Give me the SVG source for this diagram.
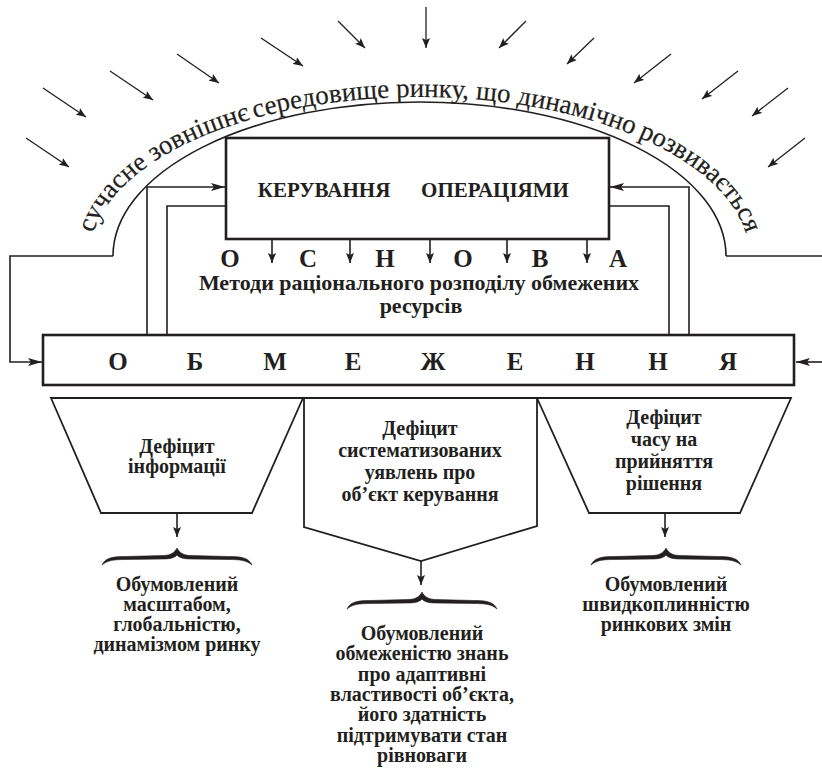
<svg xmlns="http://www.w3.org/2000/svg" xmlns:xlink="http://www.w3.org/1999/xlink" width="822" height="781" viewBox="0 0 822 781">
  <style>
    .ln { fill: none; stroke: #231f20; stroke-width: 1.6; }
    .thin { fill: none; stroke: #231f20; stroke-width: 1.3; }
    .box { fill: #ffffff; stroke: #231f20; stroke-width: 2.6; }
    .shape { fill: #ffffff; stroke: #231f20; stroke-width: 1.8; stroke-linejoin: miter; }
    .t { font-family: "Liberation Serif", "Times New Roman", serif; font-weight: bold; fill: #231f20; text-anchor: middle; }
    .t20 { font-size: 20px; }
    .t21 { font-size: 21px; }
    .t22 { font-size: 22px; }
    .t25 { font-size: 25px; }
    .arc { font-family: "Liberation Serif", "Times New Roman", serif; font-size: 27px; fill: #231f20; stroke: #231f20; stroke-width: 0.2; }
    .brace { fill: #231f20; stroke: #231f20; stroke-width: 0.6; }
  </style>
  <defs>
    <marker id="ah" viewBox="0 0 10 8" refX="10" refY="4" markerWidth="10" markerHeight="8" orient="auto" markerUnits="userSpaceOnUse">
      <path d="M0,0 L10,4 L0,8 L2,4 z" fill="#231f20"/>
    </marker>
    <marker id="ahBig" viewBox="0 0 14 8" refX="14" refY="4" markerWidth="15" markerHeight="8" orient="auto" markerUnits="userSpaceOnUse">
      <path d="M0,0 L14,4 L0,8 L3,4 z" fill="#231f20"/>
    </marker>
    <!-- curly brace, tip at origin, opening downward -->
    <path id="brace" d="M-75,17 C-72,10 -65,8.5 -52,8.5 L-14,7.5 C-6,7.5 -2,4 0,0 C2,4 6,7.5 14,7.5 L52,8.5 C65,8.5 72,10 75,17 C70,12.5 63,11.5 52,11.5 L14,11 C6,11 2,9.5 0,7 C-2,9.5 -6,11 -14,11 L-52,11.5 C-63,11.5 -70,12.5 -75,17 Z"/>
    <!-- baseline for the caption that follows the dome -->
    <path id="arcPath" d="M89.5,257 A330,160 0 0 1 749.5,257"/>
  </defs>

  <rect width="822" height="781" fill="#ffffff"/>

  <!-- market environment: dome and incoming pressures -->
  <g id="environment">
    <path class="ln" d="M113,256 A306.5,154 0 0 1 726,256" stroke-width="2"/>
    <path class="ln" d="M726,256 H822"/>
    <text class="arc"><textPath href="#arcPath" xlink:href="#arcPath" startOffset="24">сучасне зовнішнє</textPath></text>
    <text class="arc" text-anchor="middle"><textPath href="#arcPath" xlink:href="#arcPath" startOffset="422">середовище ринку, що динамічно</textPath></text>
    <text class="arc" text-anchor="end"><textPath href="#arcPath" xlink:href="#arcPath" startOffset="769">розвивається</textPath></text>
    <g class="thin" marker-end="url(#ah)">
      <line x1="26" y1="138" x2="69" y2="167"/>
      <line x1="43" y1="88" x2="86" y2="117"/>
      <line x1="110" y1="71" x2="153" y2="100"/>
      <line x1="177" y1="54" x2="219" y2="83"/>
      <line x1="261" y1="38" x2="303" y2="66"/>
      <line x1="338" y1="21" x2="365" y2="48"/>
      <line x1="426" y1="7" x2="426" y2="48"/>
      <line x1="526" y1="21" x2="499" y2="48"/>
      <line x1="594" y1="38" x2="567" y2="64"/>
      <line x1="671" y1="54" x2="634" y2="83"/>
      <line x1="738" y1="71" x2="702" y2="99"/>
      <line x1="788" y1="88" x2="752" y2="116"/>
      <line x1="805" y1="138" x2="768" y2="167"/>
    </g>
  </g>

  <!-- connectors -->
  <g id="connectors">
    <path class="ln" d="M113,256 H10 V362 H42" marker-end="url(#ahBig)"/>
    <path class="ln" d="M822,362 H796" marker-end="url(#ahBig)"/>
    <path class="ln" d="M147,335 V187 H225" marker-end="url(#ahBig)"/>
    <path class="ln" d="M226,206 H167 V335"/>
    <path class="ln" d="M689,335 V187 H610" marker-end="url(#ahBig)"/>
    <path class="ln" d="M609,206 H669 V335"/>
    <g class="ln" marker-end="url(#ah)">
      <line x1="272" y1="239" x2="272" y2="263"/>
      <line x1="350" y1="239" x2="350" y2="263"/>
      <line x1="430" y1="239" x2="430" y2="263"/>
      <line x1="507" y1="239" x2="507" y2="263"/>
      <line x1="587" y1="239" x2="587" y2="263"/>
      <line x1="177" y1="514" x2="177" y2="537"/>
      <line x1="421" y1="561" x2="421" y2="585"/>
      <line x1="665" y1="514" x2="665" y2="537"/>
    </g>
  </g>

  <!-- operations management -->
  <g id="control">
    <rect class="box" x="226" y="138" width="383" height="101"/>
    <text class="t t21" x="324" y="197">КЕРУВАННЯ</text>
    <text class="t t21" x="495" y="197">ОПЕРАЦІЯМИ</text>
  </g>

  <!-- basis -->
  <g id="basis">
    <text class="t t25" y="267"><tspan x="230">О</tspan><tspan x="308">С</tspan><tspan x="385">Н</tspan><tspan x="463">О</tspan><tspan x="540">В</tspan><tspan x="618">А</tspan></text>
    <text class="t t22" x="419" y="290">Методи раціонального розподілу обмежених</text>
    <text class="t t22" x="421" y="313">ресурсів</text>
  </g>

  <!-- limits -->
  <g id="limits">
    <rect class="box" x="43" y="335" width="751" height="50"/>
    <text class="t t25" y="370"><tspan x="118">О</tspan><tspan x="195">Б</tspan><tspan x="275">М</tspan><tspan x="353">Е</tspan><tspan x="433">Ж</tspan><tspan x="515">Е</tspan><tspan x="585">Н</tspan><tspan x="658">Н</tspan><tspan x="728">Я</tspan></text>
  </g>

  <!-- information deficit -->
  <g id="deficit-info">
    <polygon class="shape" points="51,398 303,398 252,513 101,513"/>
    <text class="t t20"><tspan x="177" y="453">Дефіцит</tspan><tspan x="177" y="473">інформації</tspan></text>
  </g>

  <!-- deficit of systematised knowledge -->
  <g id="deficit-knowledge">
    <polygon class="shape" points="304,398 537,398 537,526 421,561 304,527"/>
    <text class="t t20"><tspan x="420" y="435">Дефіцит</tspan><tspan x="420" y="457">систематизованих</tspan><tspan x="420" y="479">уявлень про</tspan><tspan x="420" y="501">об’єкт керування</tspan></text>
  </g>

  <!-- time deficit -->
  <g id="deficit-time">
    <polygon class="shape" points="537,398 791,398 740,513 589,513"/>
    <text class="t t20"><tspan x="664" y="424">Дефіцит</tspan><tspan x="664" y="446">часу на</tspan><tspan x="664" y="468">прийняття</tspan><tspan x="664" y="490">рішення</tspan></text>
  </g>

  <!-- causes -->
  <g id="cause-info">
    <use href="#brace" xlink:href="#brace" class="brace" x="177" y="548"/>
    <text class="t t20"><tspan x="177" y="591">Обумовлений</tspan><tspan x="177" y="611">масштабом,</tspan><tspan x="177" y="631">глобальністю,</tspan><tspan x="177" y="651">динамізмом ринку</tspan></text>
  </g>

  <g id="cause-knowledge">
    <use href="#brace" xlink:href="#brace" class="brace" x="422" y="592"/>
    <text class="t t20"><tspan x="422" y="640">Обумовлений</tspan><tspan x="422" y="660">обмеженістю знань</tspan><tspan x="422" y="681">про адаптивні</tspan><tspan x="422" y="701">властивості об’єкта,</tspan><tspan x="422" y="721">його здатність</tspan><tspan x="422" y="742">підтримувати стан</tspan><tspan x="422" y="762">рівноваги</tspan></text>
  </g>

  <g id="cause-time">
    <use href="#brace" xlink:href="#brace" class="brace" x="666" y="548"/>
    <text class="t t20"><tspan x="666" y="591">Обумовлений</tspan><tspan x="666" y="611">швидкоплинністю</tspan><tspan x="666" y="631">ринкових змін</tspan></text>
  </g>
</svg>
